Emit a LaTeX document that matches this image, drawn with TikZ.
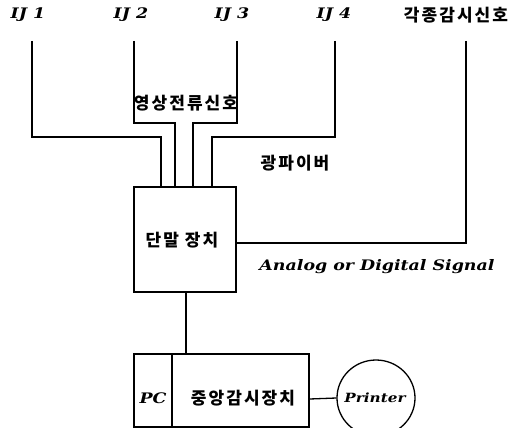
\documentclass[tikz,border=0pt]{standalone}
\usepackage{fontspec}
\newfontfamily\kr{Noto Sans CJK KR}[LetterSpace=12]
\newfontfamily\lt{DejaVu Serif}[FakeStretch=1.2]
\usetikzlibrary{shapes.geometric}
\begin{document}
\begin{tikzpicture}[x=1pt,y=-1pt,
  wire/.style={line width=1.3pt},
  lat/.style={font=\lt\fontsize{14.5}{16}\selectfont\bfseries\itshape, inner sep=0pt},
  han/.style={font=\kr\fontsize{17}{19}\selectfont\bfseries, inner sep=0pt},
  boxx/.style={draw, line width=1.3pt, inner sep=0pt}]
\useasboundingbox (0,0) rectangle (522,428);
% top labels
\node[lat] (ij1) at (28,15) {IJ\ 1};
\node[lat] (ij2) at (131,15) {IJ\ 2};
\node[lat] (ij3) at (232,15) {IJ\ 3};
\node[lat] (ij4) at (334,15) {IJ\ 4};
\node[han] (sig) at (456,15) {각종감시신호};
% start coordinates
\coordinate (s1) at (32,41);
\coordinate (s2) at (134,41);
\coordinate (s3) at (237,41);
\coordinate (s4) at (335,41);
\coordinate (s5) at (466,41);
% terminal box
\node[boxx, minimum width=102pt, minimum height=105pt] (term) at (185,239.5) {};
\node[han] (termt) at (182,240) {단말\hspace{6pt}장치};
% entry points on top of box
\coordinate (e1) at (161,187);
\coordinate (e2) at (175,187);
\coordinate (e3) at (193,187);
\coordinate (e4) at (212,187);
% wires
\draw[wire] (s1) |- (161,137) -- (e1);
\draw[wire] (s2) |- (175,123) -- (e2);
\draw[wire] (s3) |- (193,123) -- (e3);
\draw[wire] (s4) |- (212,137) -- (e4);
\draw[wire] (s5) |- (term.east |- 0,243);
% labels
\node[han] (vid) at (186,103) {영상전류신호};
\node[han] (fib) at (295,163) {광파이버};
\node[lat] (ana) at (377,267) {Analog or Digital Signal};
% central box
\node[boxx, minimum width=175pt, minimum height=73pt] (cen) at (221.5,390.5) {};
\coordinate (divt) at (172,354);
\coordinate (divb) at (172,427);
\draw[wire] (divt) -- (divb);
\node[lat] (pc) at (153,398) {PC};
\node[han] (cent) at (243,398) {중앙감시장치};
\draw[wire] (term.south -| 186,0) -- (cen.north -| 186,0);
% printer
\node[draw, ellipse, line width=1.3pt, minimum width=78pt, minimum height=76pt, inner sep=0pt] (prn) at (376,398) {};
\node[lat, font=\lt\fontsize{12.7}{14}\selectfont\bfseries\itshape] (prnt) at (375,398) {Printer};
\draw[wire] (cen.east |- 0,399) -- (prn.west);
\end{tikzpicture}
\end{document}
